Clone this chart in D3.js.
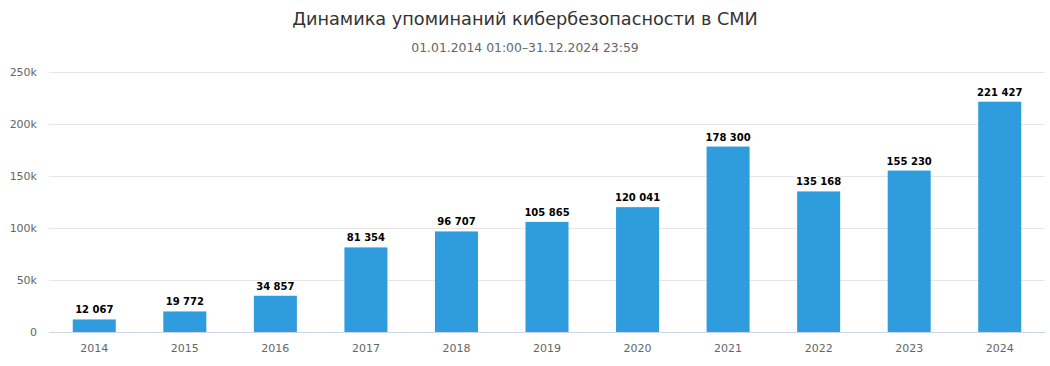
<!DOCTYPE html>
<html><head><meta charset="utf-8">
<script src="https://cdn.jsdelivr.net/npm/d3@7"></script>
<style>body{margin:0;background:#fff;}svg{display:block;font-family:"DejaVu Sans",sans-serif;}</style>
</head><body><svg id="c" width="1050" height="366"></svg>
<script>
const title = "Динамика упоминаний кибербезопасности в СМИ";
const subtitle = "01.01.2014 01:00–31.12.2024 23:59";
const years = ["2014","2015","2016","2017","2018","2019","2020","2021","2022","2023","2024"];
const mentions = [12067,19772,34857,81354,96707,105865,120041,178300,135168,155230,221427];
const yTicks = [0,50000,100000,150000,200000,250000];
const yTickLabels = ["0","50k","100k","150k","200k","250k"];

const svg = d3.select("#c");
const m = {left:49, right:1045, top:72, bottom:332};
const x = d3.scaleBand().domain(years).range([m.left,m.right]).padding(0);
const y = d3.scaleLinear().domain([0,250000]).range([m.bottom,m.top]);
const fmt = v => d3.format(",")(v).replace(/,/g," ");
const F = "DejaVu Sans, sans-serif";

svg.append("text").attr("x",525).attr("y",25).attr("text-anchor","middle")
  .attr("font-size",17.7).attr("fill","#333").text(title);
svg.append("text").attr("x",525).attr("y",52).attr("text-anchor","middle")
  .attr("font-size",12.4).attr("fill","#666").text(subtitle);

const grid = svg.append("g");
grid.selectAll("line").data(yTicks.slice(1)).join("line")
  .attr("x1",m.left).attr("x2",m.right).attr("y1",d=>Math.round(y(d))+0.5).attr("y2",d=>Math.round(y(d))+0.5)
  .attr("stroke","#e6e6e6");

const yAxis = d3.axisLeft(y).tickValues(yTicks).tickFormat((d,i)=>yTickLabels[i]).tickSize(0).tickPadding(12);
const ga = svg.append("g").attr("transform",`translate(${m.left},0)`).call(yAxis);
ga.select(".domain").remove();
ga.selectAll("text").attr("font-size",11).attr("fill","#666").attr("font-family",F);

const bw = x.bandwidth()*0.475;
svg.append("g").selectAll("rect").data(years).join("rect")
  .attr("x",(d)=>x(d)+x.bandwidth()/2-bw/2).attr("width",bw)
  .attr("y",(d,i)=>y(mentions[i])).attr("height",(d,i)=>y(0)-y(mentions[i]))
  .attr("fill","#2e9cdd");

svg.append("line").attr("x1",m.left).attr("x2",m.right).attr("y1",332.5).attr("y2",332.5).attr("stroke","#ccd6eb");

const xAxis = d3.axisBottom(x).tickSize(0).tickPadding(12);
const gx = svg.append("g").attr("transform",`translate(0,${m.bottom})`).call(xAxis);
gx.select(".domain").remove();
gx.selectAll("text").attr("font-size",11).attr("fill","#666").attr("font-family",F);

svg.append("g").selectAll("text").data(years).join("text")
  .attr("x",d=>x(d)+x.bandwidth()/2).attr("y",(d,i)=>y(mentions[i])-6)
  .attr("text-anchor","middle").attr("font-size",10).attr("font-weight","bold")
  .attr("fill","#000").attr("stroke","#fff").attr("stroke-width",2).attr("paint-order","stroke")
  .text((d,i)=>fmt(mentions[i]));
</script></body></html>
